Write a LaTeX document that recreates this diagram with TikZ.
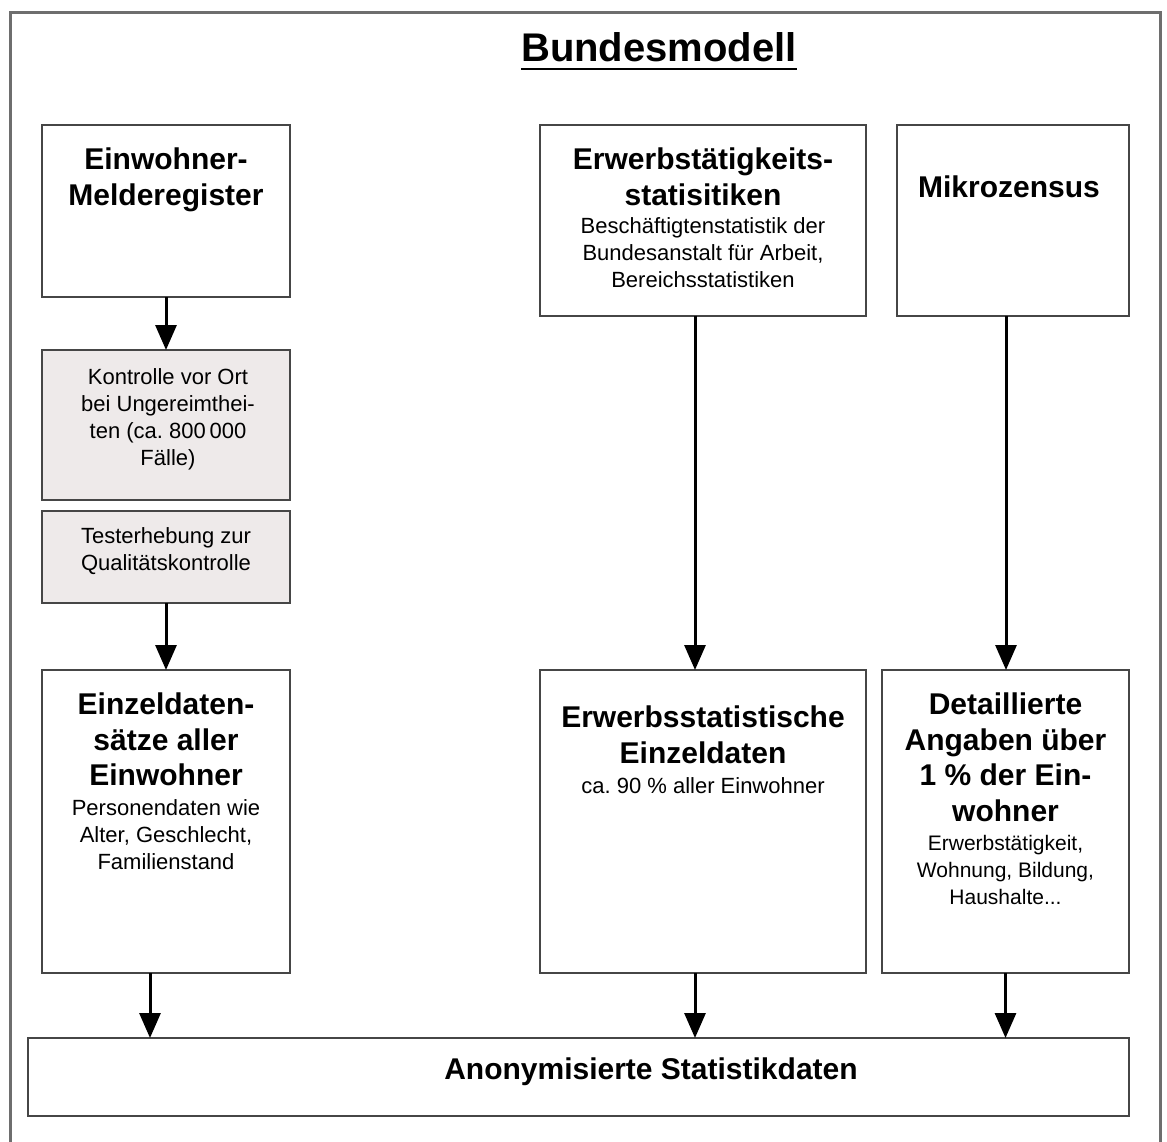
\documentclass[tikz,border=0pt]{standalone}
\usepackage{fontspec}
\setmainfont{Liberation Sans}
\usetikzlibrary{arrows.meta}
\definecolor{boxgray}{RGB}{238,234,234}
\definecolor{framec}{RGB}{70,70,70}
\definecolor{outerc}{RGB}{110,110,110}
\frenchspacing
\begin{document}
\begin{tikzpicture}[x=1pt,y=-1pt,
  box/.style={draw=framec, line width=2.7pt, inner sep=0pt, outer sep=0pt, fill=white},
  graybox/.style={box, fill=boxgray},
  big/.style={font=\fontsize{30}{35.5}\selectfont\bfseries, align=center, inner sep=0pt, anchor=north},
  small/.style={font=\fontsize{22}{27.2}\selectfont, align=center, inner sep=0pt, anchor=north},
  arr/.style={line width=3pt, -{Triangle[length=25pt,width=21pt]}}]
\useasboundingbox (0,0) rectangle (1167,1142);
\fill[white] (0,0) rectangle (1167,1142);
% outer frame
\draw[outerc, line width=3pt] (10,1150) -- (10,13) -- (1160,13) -- (1160,1150);
% title
\node[font=\fontsize{40}{46}\selectfont\bfseries, inner sep=0pt, anchor=base] (T) at (659,62) {Bundesmodell};
\draw[line width=2.5pt] ([yshift=-7pt]T.base west) -- ([yshift=-7pt]T.base east);
% boxes
\node[box, minimum width=248pt, minimum height=172pt] (A) at (166,211) {};
\node[graybox, minimum width=248pt, minimum height=150pt] (B) at (166,425) {};
\node[graybox, minimum width=248pt, minimum height=92pt] (C) at (166,557) {};
\node[box, minimum width=248pt, minimum height=303pt] (D) at (166,821.5) {};
\node[box, minimum width=326pt, minimum height=191pt] (E) at (703,220.5) {};
\node[box, minimum width=232pt, minimum height=191pt] (F) at (1013,220.5) {};
\node[box, minimum width=326pt, minimum height=303pt] (G) at (703,821.5) {};
\node[box, minimum width=247pt, minimum height=303pt] (H) at (1005.5,821.5) {};
\node[box, minimum width=1101pt, minimum height=78pt] (I) at (578.5,1077) {};
% texts
\node[big] (At) at (166,148) {Einwohner-\\Melderegister};
\node[small] (Bt) at (168,368) {Kontrolle vor Ort\\bei Ungereimthei-\\ten (ca. 800\,000\\Fälle)};
\node[small] (Ct) at (166,527) {Testerhebung zur\\Qualitätskontrolle};
\node[big] (Dt) at (166,693) {Einzeldaten-\\sätze aller\\Einwohner};
\node[small] (Ds) at (166,799) {Personendaten wie\\Alter, Geschlecht,\\Familienstand};
\node[big] (Et) at (703,148) {Erwerbstätigkeits-\\statisitiken};
\node[small] (Es) at (703,217) {Beschäftigtenstatistik der\\Bundesanstalt für Arbeit,\\Bereichsstatistiken};
\node[big] (Ft) at (1009,176) {Mikrozensus};
\node[big] (Gt) at (703,706) {Erwerbsstatistische\\Einzeldaten};
\node[small] (Gs) at (703,777) {ca. 90 \% aller Einwohner};
\node[big] (Ht) at (1005.5,693) {Detaillierte\\Angaben über\\1 \% der Ein-\\wohner};
\node[small, font=\fontsize{21}{27.2}\selectfont] (Hs) at (1005.5,835) {Erwerbstätigkeit,\\Wohnung, Bildung,\\Haushalte...};
\node[font=\fontsize{30}{35}\selectfont\bfseries, inner sep=0pt] (It) at (651,1072) {Anonymisierte Statistikdaten};
% arrows
\draw[arr] (A.south) -- (B.north);
\draw[arr] (C.south) -- (D.north);
\draw[arr] ([xshift=-8pt]E.south) -- ([xshift=-8pt]G.north);
\draw[arr] ([xshift=-7pt]F.south) -- ([xshift=-7pt]F.south |- H.north);
\draw[arr] ([xshift=-16pt]D.south) -- ([xshift=-16pt]D.south |- I.north);
\draw[arr] ([xshift=-8pt]G.south) -- ([xshift=-8pt]G.south |- I.north);
\draw[arr] (H.south) -- (H.south |- I.north);
\end{tikzpicture}
\end{document}
